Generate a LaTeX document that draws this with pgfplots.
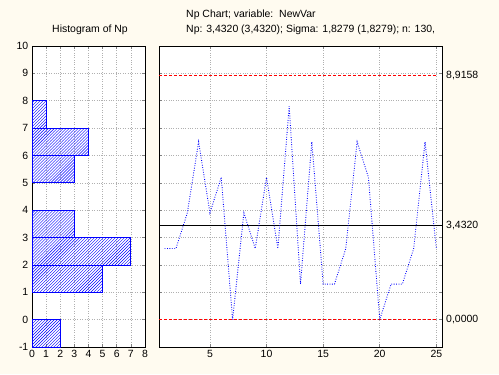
\documentclass[border=0pt]{standalone}
\usepackage{pgfplots}
\pgfplotsset{compat=1.18}
\usepackage{fontspec}
\setmainfont{Liberation Sans}
\usetikzlibrary{patterns}
\definecolor{bg}{rgb}{1,0.984,0.941}
\definecolor{gridgray}{rgb}{0.69,0.69,0.69}
\pgfplotsset{
  common/.style={
    scale only axis, anchor=south west,
    height=301bp, ymin=-1, ymax=10, ytick={-1,0,...,10},
    grid=major, grid style={gridgray, dotted, line width=0.6pt},
    tick align=inside, major tick length=3bp,
    tick style={line width=0.6pt},
    axis line style={line width=0.9pt},
    axis background/.style={fill=white},
    tick label style={font=\fontsize{10.5}{12}\selectfont},
    /pgf/number format/assume math mode=true,
  }
}
\begin{document}
\fontsize{10.5}{12}\selectfont
\begin{tikzpicture}[x=1bp,y=1bp]
\fill[bg] (0,0) rectangle (499,374);
\node at (90,344) {Histogram of Np};
\node[anchor=west, inner sep=0pt] at (186,359) {Np Chart; variable:\ \ NewVar};
\node[anchor=west, inner sep=0pt] at (186,344) {Np: 3,4320 (3,4320); Sigma: 1,8279 (1,8279); n: 130,};
\begin{axis}[common, at={(159bp,27bp)}, width=283bp,
  xmin=0.5, xmax=25.5, xtick={5,10,...,25}, yticklabels={},
  clip=false]
\addplot[color=red, densely dashed, line width=1pt] coordinates {(0.5,8.9158) (25,8.9158)};
\addplot[color=red, densely dashed, line width=1pt] coordinates {(0.5,0) (25,0)};
\addplot[draw=black, line width=0.9pt] coordinates {(0.5,3.432) (25.5,3.432)};
\addplot[draw=blue, line width=0.9pt, dash pattern=on 0.8bp off 1.6bp] coordinates {
(1,2.6) (2,2.6) (3,3.9) (4,6.5) (5,3.9) (6,5.2) (7,0) (8,3.9) (9,2.6) (10,5.2)
(11,2.6) (12,7.8) (13,1.3) (14,6.5) (15,1.3) (16,1.3) (17,2.6) (18,6.5) (19,5.2) (20,0)
(21,1.3) (22,1.3) (23,2.6) (24,6.5) (25,2.6)};
\node[anchor=west, inner sep=0pt, xshift=4bp] at (axis cs:25.5,8.9158) {8,9158};
\node[anchor=west, inner sep=0pt, xshift=4bp] at (axis cs:25.5,3.432) {3,4320};
\node[anchor=west, inner sep=0pt, xshift=4bp] at (axis cs:25.5,0) {0,0000};
\end{axis}
\begin{axis}[common, at={(32bp,27bp)}, width=113bp,
  xmin=0, xmax=8, xtick={0,1,...,8}]
\addplot[draw=blue, line width=0.8pt, pattern=north east lines, pattern color=blue, xbar interval] coordinates {(2,-1) (2,0)};
\addplot[draw=blue, line width=0.8pt, pattern=north east lines, pattern color=blue, xbar interval] coordinates {(5,1) (7,2) (3,3) (3,4)};
\addplot[draw=blue, line width=0.8pt, pattern=north east lines, pattern color=blue, xbar interval] coordinates {(3,5) (4,6) (1,7) (1,8)};
\end{axis}
\end{tikzpicture}
\end{document}
